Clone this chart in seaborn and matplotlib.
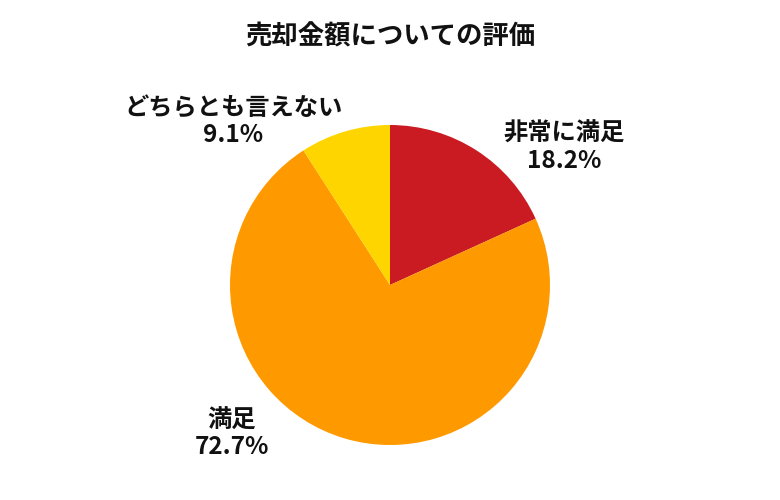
import numpy as np
import matplotlib
matplotlib.use('Agg')
import matplotlib.pyplot as plt
import seaborn as sns

# Data
categories = ['非常に満足', '満足', 'どちらとも言えない']
shares = [18.2, 72.7, 9.1]
slice_colors = ['#C91B21', '#FF9900', '#FFD500']
title = '売却金額についての評価'

sns.set_theme(style='white')
plt.rcParams['font.family'] = ['Noto Sans CJK JP', 'DejaVu Sans']

fig = plt.figure(figsize=(7.8, 5), dpi=100)
# Pie centred at (390, 285) px with radius ~160 px
ax = fig.add_axes([(390 - 160) / 780, (500 - 285 - 160) / 500, 320 / 780, 320 / 500])
palette = sns.color_palette(slice_colors)
ax.pie(shares, colors=palette, startangle=90, counterclock=False,
       wedgeprops=dict(linewidth=0))
ax.set_xlim(-1, 1)
ax.set_ylim(-1, 1)
ax.set_aspect('equal')
ax.axis('off')

# Label placement in pie-radius units
label_pos = [(1.09, 0.86), (-0.99, -0.93), (-0.98, 1.02)]
for name, val, (lx, ly) in zip(categories, shares, label_pos):
    ax.text(lx, ly, f'{name}\n{val:.1f}%', ha='center', va='center',
            fontsize=17.5, fontweight='bold', color='#111111',
            linespacing=1.15, clip_on=False)

fig.text(0.5, 1 - 37 / 500, title, ha='center', va='center',
         fontsize=19, fontweight='bold', color='#111111')

fig.savefig('out.png', dpi=100)
